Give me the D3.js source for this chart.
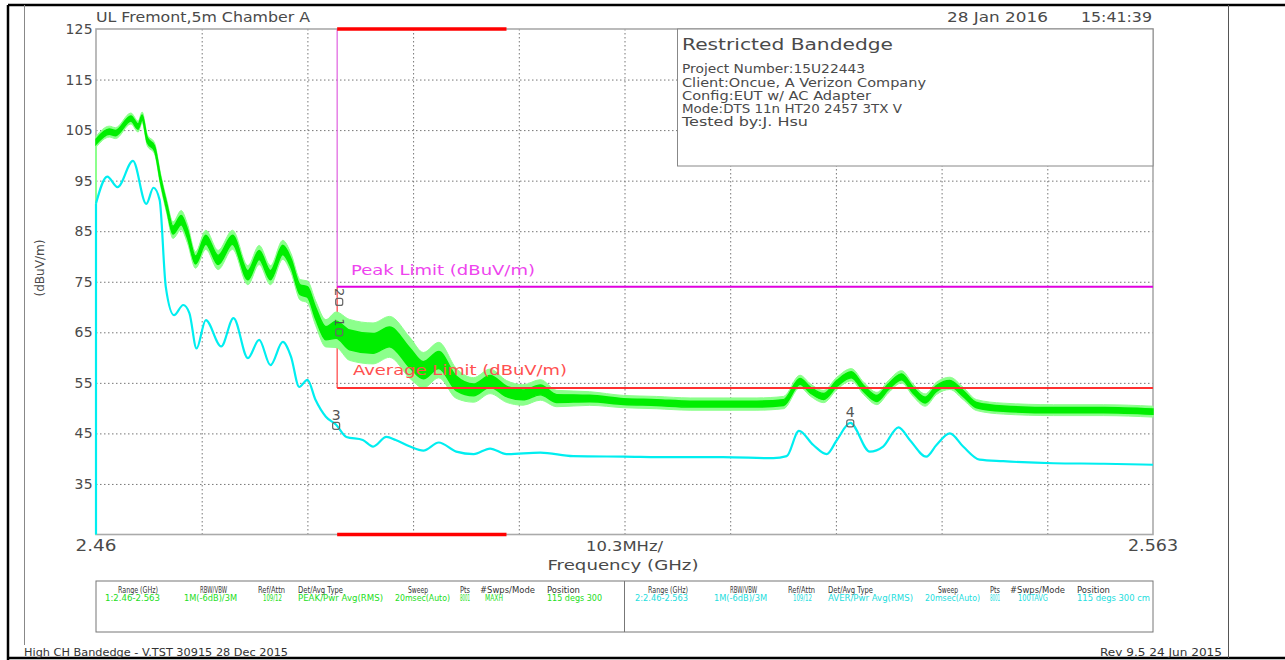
<!DOCTYPE html>
<html><head><meta charset="utf-8">
<script src="https://cdn.jsdelivr.net/npm/d3@7"></script>
<style>
body{margin:0;background:#fff}
svg{display:block}
text{font-family:"DejaVu Sans",sans-serif}
</style>
</head><body>
<svg id="c" width="1285" height="660"></svg>
<script>
// ---------------- DATA ----------------
const freqStart = 2.46, freqStop = 2.563;
const yTickValues = [35, 45, 55, 65, 75, 85, 95, 105, 115, 125];
const xDivisionCount = 10;
const peakLimit = 74, avgLimit = 54;
const bandEdge = 2.4835, restrictedEnd = 2.5;

// Trace 2 (cyan, AVER) frequency (GHz) and level (dBuV/m)
const avgFreq = [2.4600, 2.4600, 2.4611, 2.4621, 2.4636, 2.4649, 2.4656, 2.4662, 2.4668, 2.4676, 2.4685, 2.4691,
  2.4698, 2.4707, 2.4722, 2.4734, 2.4748, 2.4759, 2.4770, 2.4782, 2.4790, 2.4798, 2.4806, 2.4814, 2.4824,
  2.4834, 2.4844, 2.4860, 2.4870, 2.4883, 2.4892, 2.4906, 2.4919, 2.4934, 2.4951, 2.4968, 2.4984, 2.5000,
  2.5033, 2.5065, 2.5114, 2.5163, 2.5211, 2.5260, 2.5273, 2.5285, 2.5299, 2.5312, 2.5322, 2.5335, 2.5354,
  2.5367, 2.5382, 2.5393, 2.5409, 2.5419, 2.5432, 2.5445, 2.5461, 2.5484, 2.5533, 2.5582, 2.5630];
const avgLevel = [25, 90.5, 95.8, 93.7, 98.9, 90.4, 93.6, 91.2, 74.0, 68.4, 70.4, 68.8,
  61.8, 67.4, 62.2, 67.8, 59.9, 63.5, 58.5, 63.1, 60.2, 54.2, 55.6, 51.6, 48.3,
  46.7, 44.3, 43.7, 42.4, 44.3, 43.7, 42.4, 41.6, 43.2, 41.4, 40.9, 42.0, 40.9,
  41.2, 40.5, 40.4, 40.3, 40.3, 40.1, 40.5, 45.5, 42.7, 40.9, 43.7, 47.1, 41.4,
  42.4, 46.2, 43.7, 40.4, 42.7, 45.0, 42.4, 39.8, 39.5, 39.1, 39.0, 38.8];

// Trace 1 (green, PEAK max hold): centre level and half-width of the noise band (dB)
const peakFreq = [2.4600, 2.4600, 2.4613, 2.4619, 2.4634, 2.4641, 2.4645, 2.4650, 2.4657, 2.4663, 2.4669, 2.4675,
  2.4683, 2.4689, 2.4697, 2.4707, 2.4719, 2.4733, 2.4748, 2.4759, 2.4770, 2.4782, 2.4790, 2.4799, 2.4806,
  2.4814, 2.4824, 2.4834, 2.4847, 2.4870, 2.4886, 2.4906, 2.4919, 2.4934, 2.4951, 2.4968, 2.4984, 2.5000,
  2.5016, 2.5033, 2.5049, 2.5081, 2.5114, 2.5146, 2.5179, 2.5211, 2.5244, 2.5270, 2.5286, 2.5296, 2.5309,
  2.5322, 2.5336, 2.5348, 2.5361, 2.5372, 2.5385, 2.5396, 2.5408, 2.5419, 2.5432, 2.5445, 2.5458, 2.5484,
  2.5533, 2.5582, 2.5630];
const peakLevel = [25, 102.7, 104.7, 104.4, 107.3, 105.7, 107.5, 103.0, 101.4, 95.1, 89.8, 85.2,
  87.2, 84.6, 79.3, 83.3, 79.3, 83.3, 76.3, 80.3, 76.3, 81.3, 78.7, 73.4, 73.0,
  68.8, 64.8, 65.5, 63.5, 62.8, 64.1, 59.9, 57.5, 59.5, 54.9, 53.6, 55.3, 53.3,
  52.6, 53.6, 51.9, 51.9, 51.3, 51.1, 50.8, 50.8, 50.8, 51.1, 55.3, 53.6, 52.3,
  54.9, 56.6, 53.9, 51.9, 54.2, 56.2, 53.6, 51.6, 53.9, 54.9, 52.9, 50.6, 49.9,
  49.6, 49.6, 49.3];
const peakSpread = [0, 0.8, 0.8, 0.8, 0.8, 0.8, 0.8, 0.8, 0.8, 0.9, 1.0, 1.2,
  1.4, 1.4, 1.2, 1.4, 1.4, 1.4, 1.4, 1.4, 1.4, 1.4, 1.4, 1.5, 1.6,
  1.8, 2.0, 2.6, 3.0, 3.0, 3.0, 3.0, 2.6, 2.6, 2.2, 1.8, 1.8, 1.6,
  1.5, 1.5, 1.2, 1.0, 0.9, 0.9, 0.9, 0.9, 0.9, 0.9, 0.9, 0.9, 0.9,
  0.9, 0.9, 0.9, 0.9, 0.9, 0.9, 0.9, 0.9, 0.9, 0.9, 0.9, 0.8, 0.8,
  0.8, 0.8, 0.8];

// Markers
const markerIds = ["1", "2", "3", "4"];
const markerFreq = [2.4837, 2.4837, 2.4834, 2.5335];
const markerLevel = [65.0, 71.0, 46.5, 47.0];

// Text content
const headerLeft = "UL Fremont,5m Chamber A";
const headerDate = "28 Jan 2016";
const headerTime = "15:41:39";
const infoTitle = "Restricted Bandedge";
const infoLines = ["Project Number:15U22443", "Client:Oncue, A Verizon Company", "Config:EUT w/ AC Adapter",
  "Mode:DTS 11n HT20 2457 3TX V", "Tested by:J. Hsu"];
const tableHeaders = ["Range (GHz)", "RBW/VBW", "Ref/Attn", "Det/Avg Type", "Sweep", "Pts", "#Swps/Mode", "Position"];
const trace1Settings = ["1:2.46-2.563", "1M(-6dB)/3M", "109/12", "PEAK/Pwr Avg(RMS)", "20msec(Auto)", "8001", "MAXH", "115 degs 300"];
const trace2Settings = ["2:2.46-2.563", "1M(-6dB)/3M", "109/12", "AVER/Pwr Avg(RMS)", "20msec(Auto)", "8001", "100TAVG", "115 degs 300 cm"];
const footerLeft = "High CH Bandedge - V.TST 30915 28 Dec 2015";
const footerRight = "Rev 9.5 24 Jun 2015";

// ---------------- DRAW ----------------
const svg = d3.select("#c");
const L = 96, R = 1153, T = 29, B = 534.5;
const x = d3.scaleLinear().domain([freqStart, freqStop]).range([L, R]);
const y = d3.scaleLinear().domain([25, 125]).range([B, T]);
const TXT = "#4a4a4a";
const curve = d3.curveMonotoneX;

function txt(px, py, s, o = {}) {
  const t = svg.append("text").attr("x", px).attr("y", py).text(s)
    .attr("font-size", o.size || 13).attr("fill", o.fill || TXT)
    .attr("text-anchor", o.anchor || "start");
  if (o.len) t.attr("textLength", o.len).attr("lengthAdjust", "spacingAndGlyphs");
  if (o.rot) t.attr("transform", `rotate(${o.rot},${px},${py})`);
  return t;
}

// outer frame
svg.append("line").attr("x1", 8).attr("x2", 1285).attr("y1", 5).attr("y2", 5).attr("stroke", "#000").attr("stroke-width", 2.5);
svg.append("line").attr("x1", 8).attr("x2", 8).attr("y1", 5).attr("y2", 660).attr("stroke", "#000").attr("stroke-width", 2.5);
svg.append("line").attr("x1", 8).attr("x2", 1285).attr("y1", 658).attr("y2", 658).attr("stroke", "#000").attr("stroke-width", 2.5);
svg.append("line").attr("x1", 24.5).attr("x2", 24.5).attr("y1", 5).attr("y2", 645).attr("stroke", "#888").attr("stroke-width", 1);
svg.append("line").attr("x1", 1228.5).attr("x2", 1228.5).attr("y1", 5).attr("y2", 658).attr("stroke", "#555").attr("stroke-width", 1);

// grid (horizontal) through axis
const yGrid = svg.append("g").attr("transform", `translate(${L},0)`)
  .call(d3.axisLeft(y).tickValues(yTickValues.filter(v => v < 125)).tickSize(-(R - L)).tickFormat(""));
yGrid.select(".domain").remove();
yGrid.selectAll("line").attr("stroke", "#777").attr("stroke-dasharray", "1.5,2.5");

// vertical grid through axis
const step = (freqStop - freqStart) / xDivisionCount;
const xGridVals = d3.range(1, xDivisionCount).map(i => freqStart + i * step);
const xGrid = svg.append("g").attr("transform", `translate(0,${B})`)
  .call(d3.axisBottom(x).tickValues(xGridVals).tickSize(-(B - T)).tickFormat(""));
xGrid.select(".domain").remove();
xGrid.selectAll("line").attr("stroke", "#777").attr("stroke-dasharray", "1.5,2.5");

// y tick labels
const yLab = svg.append("g").attr("transform", `translate(${L - 2},0)`)
  .call(d3.axisLeft(y).tickValues(yTickValues).tickSize(0).tickPadding(1));
yLab.select(".domain").remove();
yLab.selectAll("text").attr("font-size", 14).attr("fill", TXT).attr("font-family", "DejaVu Sans").attr("letter-spacing", 0.3);

// plot frame
svg.append("rect").attr("x", L).attr("y", T).attr("width", R - L).attr("height", B - T)
  .attr("fill", "none").attr("stroke", "#aaa").attr("stroke-width", 1.6);

// info box
svg.append("rect").attr("x", 677.5).attr("y", T).attr("width", R - 677.5).attr("height", 137)
  .attr("fill", "#fff").attr("stroke", "#888").attr("stroke-width", 1);
txt(682, 50, infoTitle, {size: 16, len: 211});
const infoLens = [183, 244, 189, 220, 126];
const infoBase = [73, 87, 100, 113, 126];
infoLines.forEach((s, i) => txt(682, infoBase[i], s, {size: 12.5, len: infoLens[i]}));

// header texts
txt(96, 22, headerLeft, {size: 14, len: 214});
txt(947, 22, headerDate, {size: 14, len: 101});
txt(1081, 22, headerTime, {size: 14, len: 71});

// y axis title
txt(44, 268, "(dBuV/m)", {size: 11.5, anchor: "middle", rot: -90, len: 57});

// x labels
txt(x(freqStart), 551, "2.46", {size: 15, anchor: "middle", len: 41});
txt(x(freqStart + 5 * step), 551, "10.3MHz/", {size: 14, anchor: "middle", len: 77});
txt(x(freqStop), 551, "2.563", {size: 15, anchor: "middle", len: 50});
txt(623, 570, "Frequency (GHz)", {size: 14, anchor: "middle", len: 151});

// limit lines
const xe = x(bandEdge);
svg.append("line").attr("x1", xe).attr("x2", xe).attr("y1", T).attr("y2", y(peakLimit)).attr("stroke", "#e060e0").attr("stroke-width", 1.2);
svg.append("line").attr("x1", xe).attr("x2", xe).attr("y1", y(peakLimit)).attr("y2", y(avgLimit)).attr("stroke", "#ff4040").attr("stroke-width", 1.2);
svg.append("line").attr("x1", xe).attr("x2", R).attr("y1", y(peakLimit)).attr("y2", y(peakLimit)).attr("stroke", "#e000e0").attr("stroke-width", 2);
txt(351, 275, "Peak Limit (dBuV/m)", {size: 14.5, fill: "#ee44ee", len: 184});

// restricted band bars
[T, B].forEach(yy => svg.append("line").attr("x1", xe).attr("x2", x(restrictedEnd)).attr("y1", yy).attr("y2", yy)
  .attr("stroke", "#ff0000").attr("stroke-width", 3.5));

// peak trace (green band): sweep start segment straight, rest smooth
const pk = peakFreq.map((f, i) => ({f, v: peakLevel[i], s: peakSpread[i]}));
svg.append("line").attr("x1", x(pk[0].f)).attr("x2", x(pk[1].f)).attr("y1", y(pk[0].v)).attr("y2", y(pk[1].v))
  .attr("stroke", "#8cff8c").attr("stroke-width", 2);
const pkBody = pk.slice(1);
svg.append("path").datum(pkBody)
  .attr("d", d3.area().curve(curve).x(d => x(d.f)).y0(d => y(d.v - d.s * 1.35)).y1(d => y(d.v + d.s * 1.35)))
  .attr("fill", "#8cff8c").attr("stroke", "#8cff8c").attr("stroke-width", 1);
svg.append("path").datum(pkBody)
  .attr("d", d3.area().curve(curve).x(d => x(d.f)).y0(d => y(d.v - d.s * 0.65)).y1(d => y(d.v + d.s * 0.65)))
  .attr("fill", "#00ee00").attr("stroke", "#00ee00").attr("stroke-width", 1.4);

// average limit drawn over green
svg.append("line").attr("x1", xe).attr("x2", R).attr("y1", y(avgLimit)).attr("y2", y(avgLimit)).attr("stroke", "#ff3030").attr("stroke-width", 2);
txt(353, 375, "Average Limit (dBuV/m)", {size: 14.5, fill: "#ff5050", len: 214});

// average trace (cyan)
const av = avgFreq.map((f, i) => ({f, v: avgLevel[i]}));
svg.append("line").attr("x1", x(av[0].f)).attr("x2", x(av[1].f)).attr("y1", y(av[0].v)).attr("y2", y(av[1].v))
  .attr("stroke", "#00eef0").attr("stroke-width", 2.2);
svg.append("path").datum(av.slice(1))
  .attr("d", d3.line().curve(curve).x(d => x(d.f)).y(d => y(d.v)))
  .attr("fill", "none").attr("stroke", "#00eef0").attr("stroke-width", 2.2).attr("stroke-linejoin", "round");

// markers
markerIds.forEach((id, i) => {
  const mx = x(markerFreq[i]), my = y(markerLevel[i]);
  svg.append("rect").attr("x", mx - 3.5).attr("y", my - 3.5).attr("width", 7).attr("height", 7).attr("rx", 2)
    .attr("fill", "none").attr("stroke", "#666").attr("stroke-width", 1.2);
  if (id === "1" || id === "2") txt(mx - 4, my - 14, id, {size: 13, rot: 90, fill: "#555"});
  else txt(mx, my - 6, id, {size: 14, anchor: "middle", fill: "#555"});
});

// settings table
svg.append("rect").attr("x", L).attr("y", 581).attr("width", R - L).attr("height", 51)
  .attr("fill", "none").attr("stroke", "#777").attr("stroke-width", 1);
svg.append("line").attr("x1", 624.5).attr("x2", 624.5).attr("y1", 581).attr("y2", 632).attr("stroke", "#777");
const hdrPos = [[118, 40], [200, 27], [258, 27], [298, 45], [408, 20], [460, 10], [480, 55], [547, 33]];
const valPos = [[105, 55], [184, 53], [263, 19], [298, 85], [395, 55], [460, 10], [485, 18], [547, 55]];
const val2Pos = [[105, 53], [184, 53], [263, 19], [298, 85], [395, 55], [460, 10], [488, 30], [547, 73]];
[0, 530].forEach((off, k) => {
  tableHeaders.forEach((h, i) => txt(hdrPos[i][0] + off, 593, h, {size: 9, len: hdrPos[i][1], fill: "#333"}));
  const vals = k === 0 ? trace1Settings : trace2Settings;
  const pos = k === 0 ? valPos : val2Pos;
  vals.forEach((v, i) => txt(pos[i][0] + off, 601, v, {size: 9, len: pos[i][1], fill: k === 0 ? "#22dd22" : "#22dddd"}));
});

// footer
txt(24, 656, footerLeft, {size: 10, len: 264, fill: "#333"});
txt(1100, 656, footerRight, {size: 10, len: 122, fill: "#333"});
</script>
</body></html>
